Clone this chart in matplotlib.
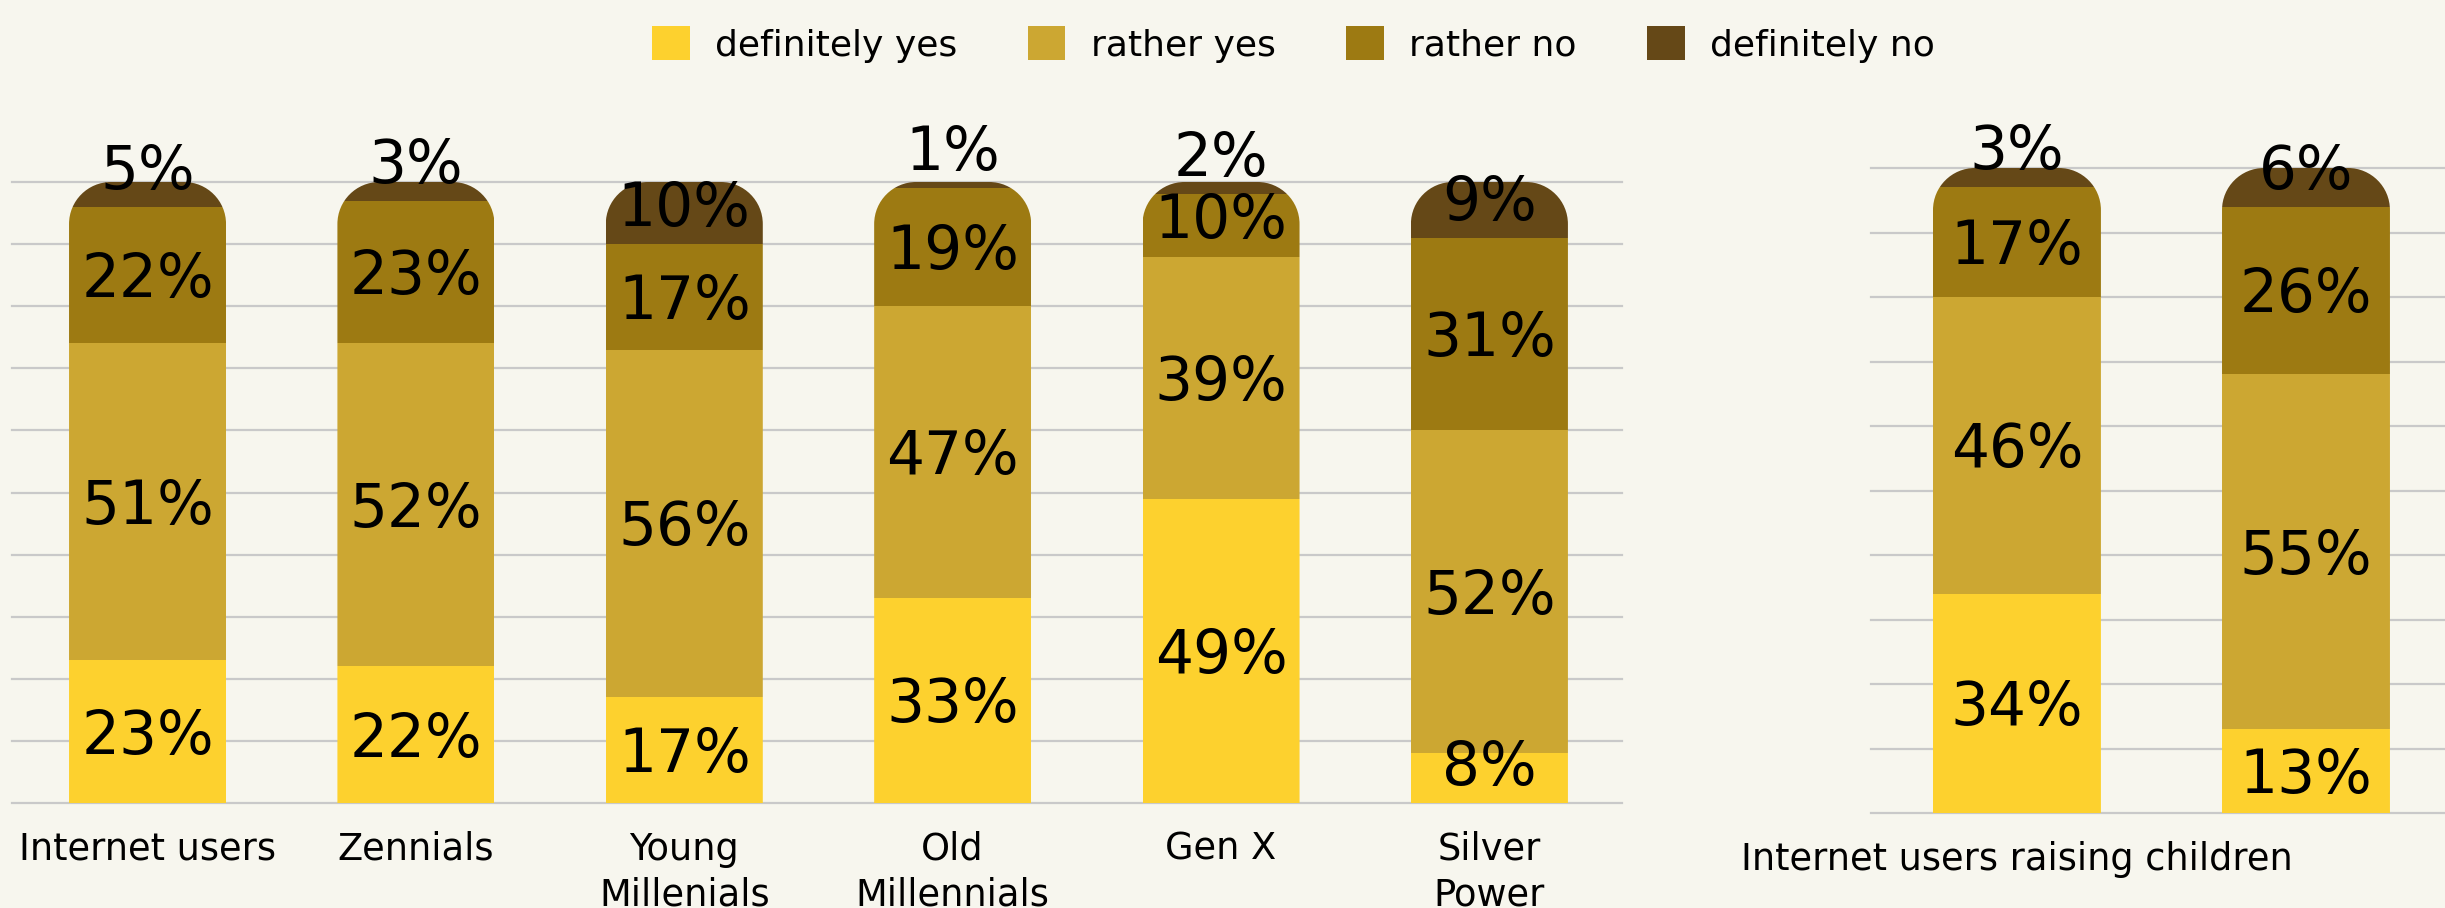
import matplotlib.pyplot as plt
from matplotlib.path import Path
from matplotlib.patches import Patch
from matplotlib.transforms import IdentityTransform

# answers per age group (share of respondents, %)
groups = ['Internet users', 'Zennials', 'Young\nMillenials', 'Old\nMillennials', 'Gen X', 'Silver\nPower']
def_yes = [23, 22, 17, 33, 49, 8]
rather_yes = [51, 52, 56, 47, 39, 52]
rather_no = [22, 23, 17, 19, 10, 31]
def_no = [5, 3, 10, 1, 2, 9]

# internet users raising children
parents = ['Internet users raising children', '']
par_def_yes = [34, 13]
par_rather_yes = [46, 55]
par_rather_no = [17, 26]
par_def_no = [3, 6]

answers = ['definitely yes', 'rather yes', 'rather no', 'definitely no']
colors = ['#FDD12E', '#CCA732', '#9D7A12', '#654817']
bg = '#F7F6EE'
grid_col = '#C9C9C9'
DPI = 100
W, H = 2445, 908


def rounded_top(ax, xc, width, top, r):
    # bar outline in pixels with rounded upper corners
    x0, y0 = ax.transData.transform((xc - width / 2, 0))
    x1, y1 = ax.transData.transform((xc + width / 2, min(top, 100)))
    y0 -= 5
    k = 0.5523 * r
    verts = [(x0, y0), (x1, y0), (x1, y1 - r),
             (x1, y1 - r + k), (x1 - r + k, y1), (x1 - r, y1),
             (x0 + r, y1),
             (x0 + r - k, y1), (x0, y1 - r + k), (x0, y1 - r),
             (x0, y0)]
    codes = [Path.MOVETO, Path.LINETO, Path.LINETO,
             Path.CURVE4, Path.CURVE4, Path.CURVE4,
             Path.LINETO,
             Path.CURVE4, Path.CURVE4, Path.CURVE4,
             Path.CLOSEPOLY]
    return Path(verts, codes)


def panel(ax, labels, series, width, xlim, radius=42):
    n = len(labels)
    xs = list(range(n))
    ax.set_xlim(*xlim)
    ax.set_ylim(0, 100)
    ax.patch.set_visible(False)
    for s in ax.spines.values():
        s.set_visible(False)
    ax.set_yticks(range(0, 101, 10))
    ax.tick_params(axis='y', length=0, labelleft=False)
    ax.yaxis.grid(True, color=grid_col, linewidth=1.6)
    ax.set_axisbelow(True)
    for gl in ax.yaxis.get_gridlines():
        gl.set_clip_on(False)
    ax.set_xticks(xs, labels, fontsize=26.5, linespacing=1.3)
    ax.tick_params(axis='x', length=0, pad=20)

    bottoms = [0] * n
    segs = []
    for vals, col in zip(series, colors):
        bars = ax.bar(xs, vals, width, bottom=bottoms, color=col, linewidth=0, zorder=2)
        segs.append((bars, vals, list(bottoms)))
        bottoms = [b + v for b, v in zip(bottoms, vals)]

    clips = [rounded_top(ax, x, width, bottoms[x], radius) for x in xs]
    ppu = ax.bbox.height / 100
    for bars, vals, bots in segs:
        for i, (rect, v, b) in enumerate(zip(bars, vals, bots)):
            rect.set_clip_path(clips[i], IdentityTransform())
            off = max(v * ppu / 2, 40) * 72 / DPI - 15.8
            ax.annotate(f'{v}%', (i, b), xytext=(0, off), textcoords='offset points',
                        ha='center', va='baseline', fontsize=43, color='black',
                        zorder=4, annotation_clip=False)


fig = plt.figure(figsize=(W / DPI, H / DPI), dpi=DPI, facecolor=bg)

ax1 = fig.add_axes([12 / W, (H - 803) / H, 1610 / W, 621 / H])
panel(ax1, groups, [def_yes, rather_yes, rather_no, def_no], 0.585, (-0.505, 5.494))

ax2 = fig.add_axes([1871 / W, (H - 813) / H, 574 / W, 645 / H])
panel(ax2, parents, [par_def_yes, par_rather_yes, par_rather_no, par_def_no], 0.581, (-0.505, 1.481))

handles = [Patch(facecolor=c, edgecolor='none') for c in colors]
fig.legend(handles, answers, loc='center', bbox_to_anchor=(0.529, 0.951), ncol=4,
           frameon=False, fontsize=26, handlelength=1.05, handleheight=1.05,
           handletextpad=0.7, columnspacing=1.95, borderpad=0, borderaxespad=0)

fig.savefig('out.png', dpi=DPI, facecolor=bg)
